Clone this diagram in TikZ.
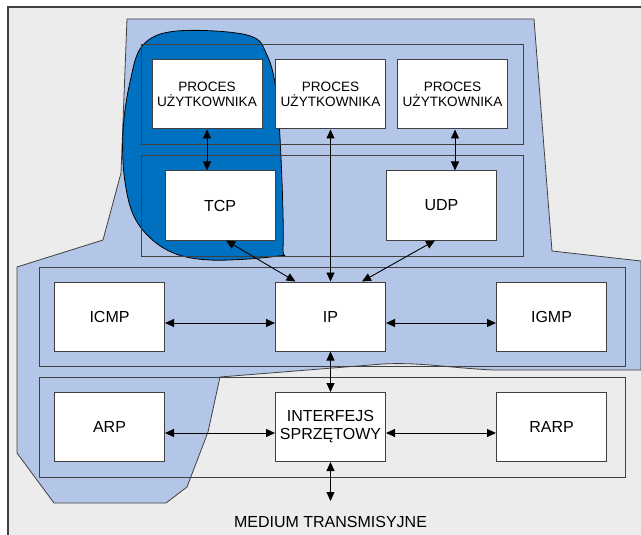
\documentclass[tikz,border=0pt]{standalone}
\usepackage{fontspec}
\setmainfont{Liberation Sans}
\usetikzlibrary{arrows.meta}
\definecolor{panel}{HTML}{ECECEC}
\definecolor{lightblue}{HTML}{B4C6E7}
\definecolor{deepblue}{HTML}{0070C0}
\definecolor{edge}{HTML}{404040}
\tikzset{
  unit/.style={draw=edge, line width=1pt, fill=white, minimum width=110pt,
    minimum height=69pt, inner sep=0pt, align=center,
    font=\fontsize{16}{18}\selectfont},
  proc/.style={unit, font=\fontsize{13.6}{15.5}\selectfont},
  layer/.style={draw=edge, line width=1pt},
  link/.style={line width=0.9pt,
    {Triangle[length=9pt,width=8pt]}-{Triangle[length=9pt,width=8pt]}},
}
\begin{document}
\begin{tikzpicture}[x=1pt,y=-1pt]
\useasboundingbox (0,0) rectangle (641,535);
% panel background with its frame
\fill[panel] (8,7) rectangle (641,535);
\draw[edge, line width=1.2pt] (8,535) -- (8,7) -- (641,7);

% light blue region
\draw[fill=lightblue, draw=edge, line width=0.8pt]
  (127,19) -- (534,19) -- (552,251) -- (641,261) -- (641,370) -- (493,370)
  .. controls (450,368) and (420,362) .. (383,364)
  -- (220,377) -- (208,432) -- (187,487) -- (166,503) -- (54,503)
  -- (17,453) -- (17,267) -- (103,240) -- (121,173) -- cycle;

% dark blue blob around the TCP stack
\draw[fill=deepblue, draw=black, line width=0.8pt]
  plot[smooth cycle, tension=0.6] coordinates {
    (143,45) (177,31) (247,35) (267,55) (277,98) (282,182) (283,248)
    (278,256) (210,260) (167,250) (137,222) (125,182) (123,132) (130,82)};

% layers
\draw[layer] (141,45) rectangle (523,145);
\draw[layer] (141,156) rectangle (523,256);
\draw[layer] (39,267) rectangle (625,366);
\draw[layer] (39,377) rectangle (625,477);

% units
\node[proc] (p1) at (207,94.5) {PROCES\\UŻYTKOWNIKA};
\node[proc] (p2) at (330.5,94.5) {PROCES\\UŻYTKOWNIKA};
\node[proc] (p3) at (452.5,94.5) {PROCES\\UŻYTKOWNIKA};
\node[unit] (tcp) at (220,205.5) {TCP};
\node[unit] (udp) at (441.5,205.5) {UDP};
\node[unit] (icmp) at (109.5,316.5) {ICMP};
\node[unit] (ip) at (330.5,316.5) {IP};
\node[unit] (igmp) at (551.5,316.5) {IGMP};
\node[unit] (arp) at (109.5,427) {ARP};
\node[unit] (hw) at (330.5,427) {INTERFEJS\\SPRZĘTOWY};
\node[unit] (rarp) at (551.5,427) {RARP};
\node[font=\fontsize{16}{18}\selectfont] (medium) at (330.5,522) {MEDIUM TRANSMISYJNE};
\coordinate (mtop) at (330.5,501);

% connections
\draw[link] (p1.south) -- (p1.south |- tcp.north);
\draw[link] (p2.south) -- (ip.north);
\draw[link] ([xshift=2.5pt]p3.south) -- ([xshift=2.5pt]p3.south |- udp.north);
\draw[link] ([xshift=6pt]tcp.south) -- ([xshift=-35pt]ip.north);
\draw[link] ([xshift=-6.5pt]udp.south) -- ([xshift=31.5pt]ip.north);
\draw[link] ([yshift=-6.5pt]icmp.east) -- ([yshift=-6.5pt]ip.west);
\draw[link] ([yshift=-6.5pt]ip.east) -- ([yshift=-6.5pt]igmp.west);
\draw[link] (ip.south) -- (hw.north);
\draw[link] ([yshift=-6pt]arp.east) -- ([yshift=-6pt]hw.west);
\draw[link] ([yshift=-6pt]hw.east) -- ([yshift=-6pt]rarp.west);
\draw[link] (hw.south) -- (mtop);
\end{tikzpicture}
\end{document}
